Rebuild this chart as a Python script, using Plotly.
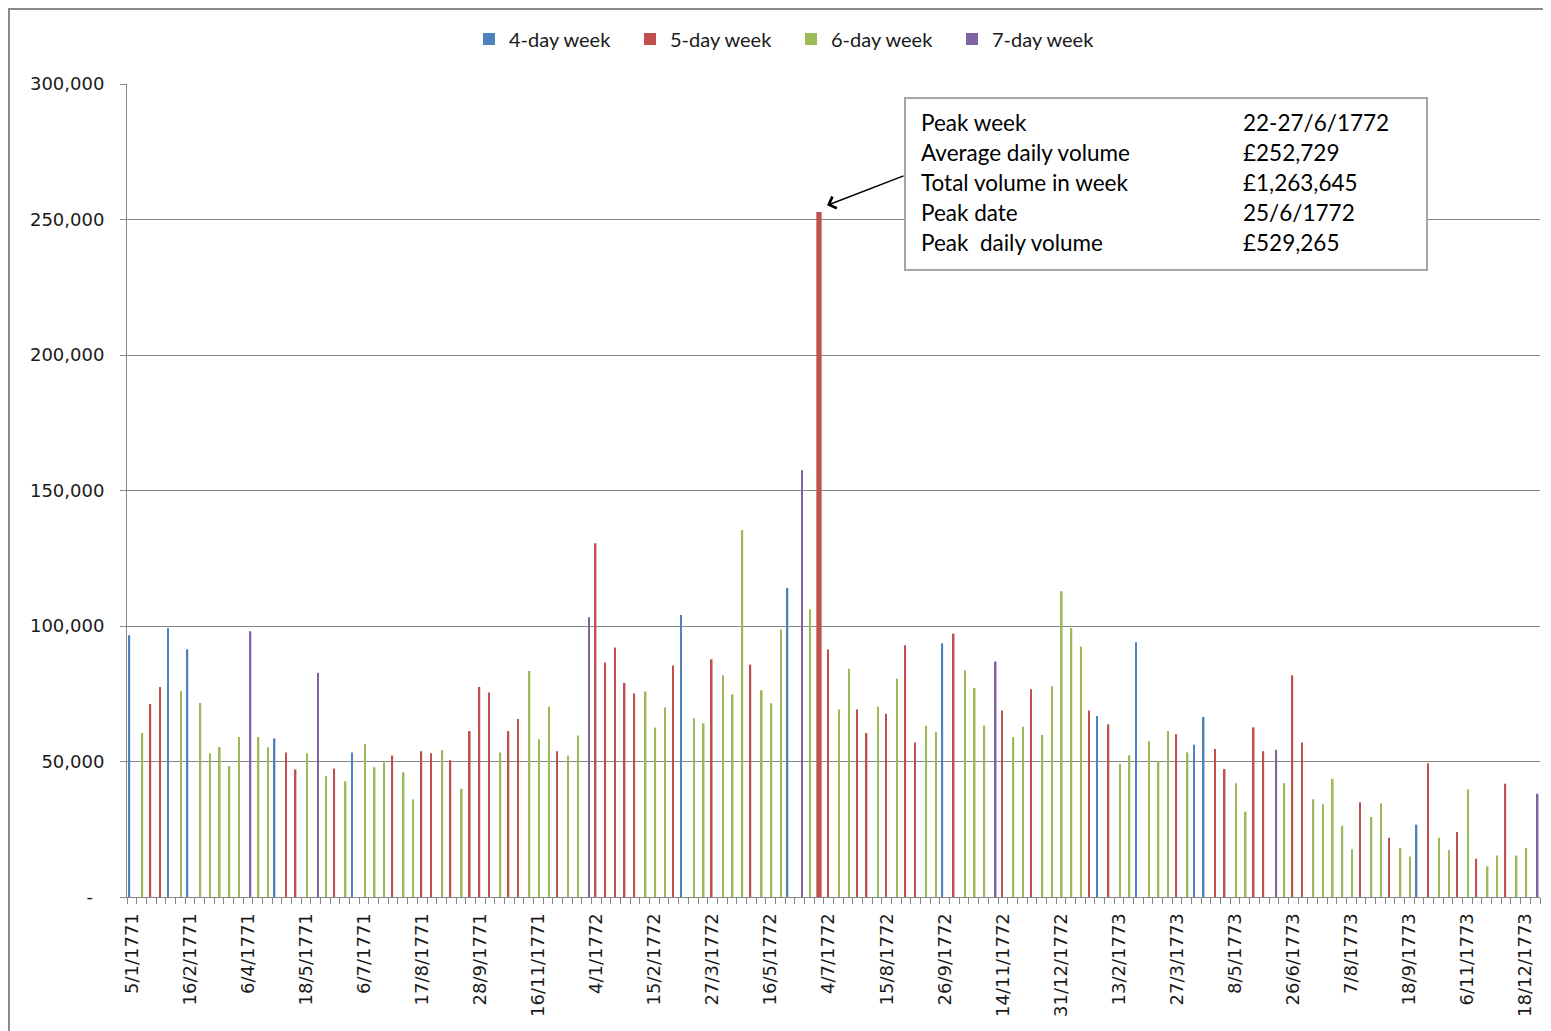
import plotly.graph_objects as go

# ---------------- data ----------------
WEEK_LABELS = ["5/1/1771", "16/2/1771", "6/4/1771", "18/5/1771", "6/7/1771",
               "17/8/1771", "28/9/1771", "16/11/1771", "4/1/1772", "15/2/1772",
               "27/3/1772", "16/5/1772", "4/7/1772", "15/8/1772", "26/9/1772",
               "14/11/1772", "31/12/1772", "13/2/1773", "27/3/1773", "8/5/1773",
               "26/6/1773", "7/8/1773", "18/9/1773", "6/11/1773", "18/12/1773"]

# average daily volume for each week (in order), and trading days in that week
VOLUME = [96600, 60500, 71200, 77500, 99300, 76000, 91400, 71600, 53000, 55300,
          48300, 59000, 98100, 59000, 55300, 58500, 53300, 47100, 53000, 82700,
          44600, 47400, 42700, 53300, 56500, 47900, 49700, 52200, 46000, 36000,
          53800, 53000, 54200, 50500, 39900, 61200, 77500, 75500, 53300, 61200,
          65700, 83400, 58200, 70300, 53800, 52200, 59600, 103200, 130500, 86500,
          92100, 79000, 75100, 75800, 62500, 69900, 85400, 104100, 66000, 64100,
          87700, 81800, 74700, 135400, 85750, 76300, 71500, 98700, 114000, 157500,
          106200, 252729, 91300, 69200, 84200, 69200, 60500, 70300, 67600, 80600,
          92900, 57000, 63200, 60900, 93600, 97100, 83700, 77100, 63200, 86900,
          68800, 59000, 62800, 76700, 59800, 77800, 112800, 99300, 92400, 68800,
          66800, 63700, 49200, 52300, 94000, 57500, 50200, 61250, 60100, 53400,
          56200, 66400, 54600, 47200, 42000, 31500, 62600, 53800, 54300, 42000,
          81800, 57000, 36100, 34200, 43600, 26300, 17600, 35000, 29500, 34500,
          21900, 18100, 14900, 26700, 49400, 21900, 17300, 24000, 39700, 14100,
          11300, 15300, 41800, 15300, 18100, 38100]

DAYS = [4, 6, 5, 5, 4, 6, 4, 6, 6, 6,
        6, 6, 7, 6, 6, 4, 5, 5, 6, 7,
        6, 5, 6, 4, 6, 6, 6, 5, 6, 6,
        5, 5, 6, 5, 6, 5, 5, 5, 6, 5,
        5, 6, 6, 6, 5, 6, 6, 7, 5, 5,
        5, 5, 5, 6, 6, 6, 5, 4, 6, 6,
        5, 6, 6, 6, 5, 6, 6, 6, 4, 7,
        6, 5, 5, 6, 6, 5, 5, 6, 5, 6,
        5, 5, 6, 6, 4, 5, 6, 6, 6, 7,
        5, 6, 6, 5, 6, 6, 6, 6, 6, 5,
        4, 5, 6, 6, 4, 6, 6, 6, 5, 6,
        4, 4, 5, 5, 6, 6, 5, 5, 7, 6,
        5, 5, 6, 6, 6, 6, 6, 5, 6, 6,
        5, 6, 6, 4, 5, 6, 6, 5, 6, 5,
        6, 6, 5, 6, 6, 7]

SERIES_DAYS = [4, 5, 6, 7]
SERIES_NAMES = ["4-day week", "5-day week", "6-day week", "7-day week"]
SERIES_COLORS = ["#4F81BD", "#C0504D", "#9BBB59", "#8064A2"]

Y_TICKS = [0, 50000, 100000, 150000, 200000, 250000, 300000]
Y_TICK_TEXT = ["-\u2007", "50,000", "100,000", "150,000", "200,000", "250,000", "300,000"]

INFO_LABELS = ["Peak week", "Average daily volume", "Total volume in week",
               "Peak date", "Peak  daily volume"]
INFO_VALUES = ["22-27/6/1772", "£252,729", "£1,263,645", "25/6/1772", "£529,265"]

# ---------------- layout helpers ----------------
# the page body adds an 8px offset; figure is sized so the plot area lands
# at page x 127..1540, y 84..897
OFF = 8
W, H = 1543, 1023
ML, MR, MT, MB = 119, 11, 76, 134
PW, PH = W - ML - MR, H - MT - MB


def px(x):  # page pixel -> paper x
    return (x - OFF - ML) / PW


def py(y):  # page pixel -> paper y
    return (OFF + H - MB - y) / PH


n = len(VOLUME)
xs = list(range(n))
peak = max(range(n), key=lambda i: VOLUME[i])
BW = 0.17
GRID = "#868686"
TXT = "#1a1a1a"

fig = go.Figure()
for j, (d, name, color) in enumerate(zip(SERIES_DAYS, SERIES_NAMES, SERIES_COLORS)):
    ys = [v if dd == d else None for v, dd in zip(VOLUME, DAYS)]
    widths = [BW] * n
    offsets = [-2 * BW + j * BW] * n
    if DAYS[peak] == d:
        widths[peak] = 0.55
        offsets[peak] = -0.275
    fig.add_trace(go.Bar(x=xs, y=ys, name=name, marker=dict(color=color, line=dict(width=0)),
                         width=widths, offset=offsets))

fig.update_layout(
    width=W, height=H,
    margin=dict(l=ML, r=MR, t=MT, b=MB, autoexpand=False),
    paper_bgcolor="white", plot_bgcolor="white",
    barmode="overlay",
    font=dict(family="DejaVu Sans, sans-serif", size=18, color=TXT),
    legend=dict(orientation="h", x=px(791), y=py(39), xanchor="center", yanchor="middle",
                font=dict(family="Lato, sans-serif", size=20, color=TXT),
                entrywidth=116, entrywidthmode="pixels", traceorder="normal"),
    xaxis=dict(range=[-0.5, n - 0.5], tickmode="array",
               tickvals=list(range(0, n, 6))[:len(WEEK_LABELS)], ticktext=WEEK_LABELS,
               tickangle=-90, ticks="", showgrid=False, zeroline=False,
               showline=True, linecolor=GRID, linewidth=1,
               ticklabelstandoff=8,
               tickfont=dict(family="DejaVu Sans, sans-serif", size=18, color=TXT),
               minor=dict(tickmode="array", tickvals=[k - 0.5 for k in range(n + 1)],
                          ticks="outside", ticklen=6, tickcolor=GRID, tickwidth=1,
                          showgrid=False)),
    yaxis=dict(range=[0, 300000], tickmode="array", tickvals=Y_TICKS, ticktext=Y_TICK_TEXT,
               showgrid=True, gridcolor=GRID, gridwidth=1, zeroline=False,
               showline=True, linecolor=GRID, linewidth=1,
               ticks="outside", ticklen=6, tickcolor=GRID,
               ticklabelstandoff=12,
               tickfont=dict(family="DejaVu Sans, sans-serif", size=18, color=TXT)),
)

# outer chart border
fig.add_shape(type="rect", xref="paper", yref="paper",
              x0=px(9), x1=px(1549), y0=py(1040), y1=py(9),
              line=dict(color="#8a8a8a", width=2), fillcolor="rgba(0,0,0,0)", layer="below")

# info box
fig.add_shape(type="rect", xref="paper", yref="paper",
              x0=px(905), x1=px(1427), y0=py(270), y1=py(98),
              line=dict(color="#a6a6a6", width=2), fillcolor="white", layer="above")
for i, (lab, val) in enumerate(zip(INFO_LABELS, INFO_VALUES)):
    yy = py(122 + 30 * i)
    fig.add_annotation(xref="paper", yref="paper", x=px(919), y=yy, text=lab,
                       showarrow=False, xanchor="left", yanchor="middle",
                       font=dict(family="Lato, sans-serif", size=22.5, color="#000000"))
    fig.add_annotation(xref="paper", yref="paper", x=px(1241), y=yy, text=val,
                       showarrow=False, xanchor="left", yanchor="middle",
                       font=dict(family="Lato, sans-serif", size=22.5, color="#000000"))

# arrow pointing to peak bar
fig.add_annotation(x=peak + 0.83, y=VOLUME[peak] + 2500, xref="x", yref="y",
                   text="", showarrow=True, ax=78, ay=-30, axref="pixel", ayref="pixel",
                   arrowhead=4, arrowsize=1.6, arrowwidth=1.5, arrowcolor="#000000")

fig.write_html("out.html")
